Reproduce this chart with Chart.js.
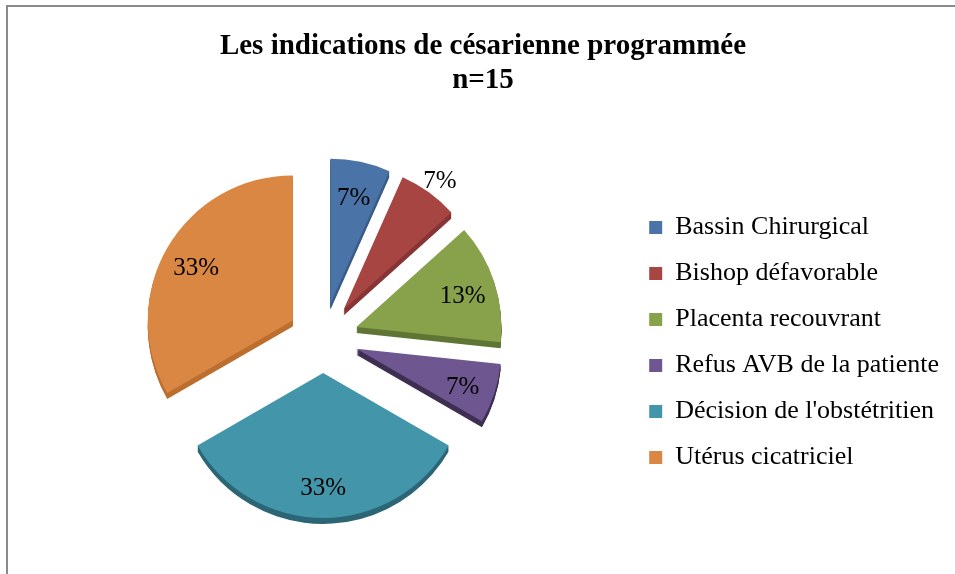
<!DOCTYPE html>
<html>
<head>
<meta charset="utf-8">
<script src="https://cdn.jsdelivr.net/npm/chart.js@4/dist/chart.umd.min.js"></script>
<style>
  html, body { margin: 0; padding: 0; background: #fff; overflow: hidden; }
  #wrap { position: relative; width: 955px; height: 574px; }
  #myPieChart { position: absolute; left: 0; top: 0; }
  #frame {
    position: absolute; left: 6px; top: 5px; width: 980px; height: 600px;
    border-left: 2px solid #8a8a8a; border-top: 2px solid #8a8a8a;
    pointer-events: none;
  }
</style>
</head>
<body>
<div id="wrap">
  <canvas id="myPieChart" width="955" height="574"></canvas>
  <div id="frame"></div>
</div>
<script>
// data
const categories = [
  "Bassin Chirurgical",
  "Bishop défavorable",
  "Placenta recouvrant",
  "Refus AVB de la patiente",
  "Décision de l'obstétritien",
  "Utérus cicatriciel",
];
const counts = [1, 1, 2, 1, 5, 5];
const total = 15;

// colours: top face and darker side of each slice
const sliceColors = ["#4a73a7", "#a74543", "#87a24b", "#6e5690", "#4395aa", "#d98743"];
const sideColors = ["#3a5c88", "#863534", "#5e7533", "#3d2e52", "#2c6676", "#bb6e2d"];

const percentLabels = counts.map((v) => Math.round((v / total) * 100) + "%");

// push every slice out from the centre along its middle angle
const explode = {
  id: "explode",
  afterDatasetUpdate(chart, args, opts) {
    args.meta.data.forEach((arc) => {
      const mid = (arc.startAngle + arc.endAngle) / 2;
      arc.x += Math.cos(mid) * opts.distance;
      arc.y += Math.sin(mid) * opts.distance;
    });
  },
};

// fake 3D thickness under each slice
const depth = {
  id: "depth",
  beforeDatasetsDraw(chart, args, opts) {
    const ctx = chart.ctx;
    chart.getDatasetMeta(0).data.forEach((arc, i) => {
      ctx.save();
      ctx.fillStyle = opts.colors[i];
      for (let k = 1; k <= opts.size; k++) {
        ctx.beginPath();
        ctx.moveTo(arc.x, arc.y + k);
        ctx.arc(arc.x, arc.y + k, arc.outerRadius, arc.startAngle, arc.endAngle);
        ctx.closePath();
        ctx.fill();
      }
      ctx.restore();
    });
  },
};

// percentage labels
const sliceLabels = {
  id: "sliceLabels",
  afterDatasetsDraw(chart, args, opts) {
    const ctx = chart.ctx;
    ctx.save();
    ctx.font = opts.font;
    ctx.fillStyle = "#000";
    ctx.textAlign = "center";
    ctx.textBaseline = "middle";
    chart.getDatasetMeta(0).data.forEach((arc, i) => {
      const mid = (arc.startAngle + arc.endAngle) / 2;
      const r = arc.outerRadius * opts.radius(i);
      ctx.fillText(percentLabels[i], arc.x + Math.cos(mid) * r, arc.y + Math.sin(mid) * r + opts.shiftY);
    });
    ctx.restore();
  },
};

const ctx = document.getElementById("myPieChart").getContext("2d");
const myPieChart = new Chart(ctx, {
  type: "pie",
  data: {
    labels: categories,
    datasets: [
      {
        data: counts,
        backgroundColor: sliceColors,
        borderWidth: 0,
        radius: 145,
        clip: false,
      },
    ],
  },
  plugins: [explode, depth, sliceLabels],
  options: {
    responsive: false,
    animation: false,
    events: [],
    layout: {
      padding: { top: 0, left: 17, right: 6, bottom: 3 },
    },
    plugins: {
      tooltip: { enabled: false },
      title: {
        display: true,
        text: ["Les indications de césarienne programmée", "n=15"],
        color: "#000",
        font: { family: "Liberation Serif", size: 29, weight: "bold", lineHeight: 1.17 },
        padding: { top: 30, bottom: 7 },
      },
      legend: {
        position: "right",
        fullSize: false,
        // empty title only nudges the items down a little
        title: { display: true, text: "", padding: 0, font: { size: 9, lineHeight: 1 } },
        labels: {
          boxWidth: 13,
          boxHeight: 13,
          padding: 20,
          color: "#000",
          font: { family: "Liberation Serif", size: 26 },
        },
      },
      explode: { distance: 35 },
      depth: { size: 6, colors: sideColors },
      sliceLabels: {
        font: "25px 'Liberation Serif'",
        radius: (i) => (i === 1 ? 1.13 : 0.77),
        shiftY: 4,
      },
    },
  },
});
</script>
</body>
</html>
